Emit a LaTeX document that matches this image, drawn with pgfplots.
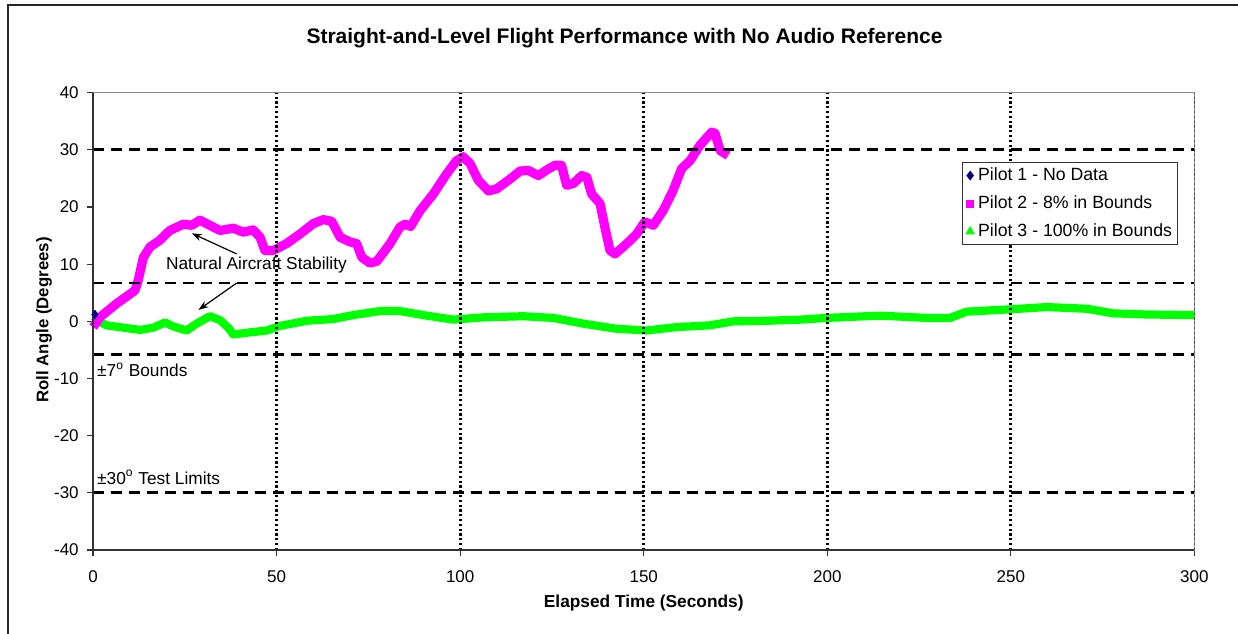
\documentclass[border=0pt]{standalone}
\usepackage{pgfplots}
\pgfplotsset{compat=1.18}
\usetikzlibrary{arrows.meta}
\usepackage{fontspec}
\setmainfont{Liberation Sans}
\definecolor{pmag}{RGB}{255,0,255}
\definecolor{pgreen}{RGB}{0,255,0}
\definecolor{pnavy}{RGB}{0,0,128}
\begin{document}
\begin{tikzpicture}
\useasboundingbox (-46.55pt,-41.5pt) rectangle (572.45pt,275pt);
\draw[black!85, line width=0.8pt] (-42.55pt,-45pt) -- (-42.55pt,272.5pt) -- (580pt,272.5pt);
\begin{axis}[
  at={(0pt,0pt)}, anchor=south west,
  scale only axis, width=550.65pt, height=228.65pt,
  xmin=0, xmax=300, ymin=-40, ymax=40,
  clip=false,
  xtick={0,50,...,300}, ytick={-40,-30,...,40},
  xticklabels={0,50,100,150,200,250,300},
  yticklabels={-40,-30,-20,-10,0,10,20,30,40},
  tick pos=left, tick align=outside, major tick length=3pt,
  tick style={black!80, line width=0.6pt},
  axis line style={draw=gray!90, line width=0.5pt},
  ticklabel style={font=\fontsize{8.5}{10}\selectfont},
  xticklabel style={inner sep=0pt, anchor=north, yshift=-7pt},
  yticklabel style={inner sep=0pt, anchor=east, xshift=-4pt},
  xlabel={Elapsed Time (Seconds)}, ylabel={Roll Angle (Degrees)},
  every axis x label/.style={at={(axis description cs:0.5,-0.1159)}, anchor=center, font=\bfseries\fontsize{8.65}{10}\selectfont},
  every axis y label/.style={at={(axis description cs:-0.0446,0.503)}, anchor=center, rotate=90, font=\bfseries\fontsize{8.4}{10}\selectfont},
  title={Straight-and-Level Flight Performance with No Audio Reference},
  every axis title/.style={at={(axis description cs:0.4825,1.1196)}, anchor=center, font=\bfseries\fontsize{10.5}{12}\selectfont},
  legend style={at={(0.7887,0.849)}, anchor=north west, draw=black!80, line width=0.5pt, fill=white,
    font=\fontsize{8.85}{10}\selectfont, inner xsep=2pt, inner ysep=1.65pt, row sep=4pt, column sep=1pt,
    nodes={inner sep=1pt, text height=6.3pt, text depth=1.7pt}},
  legend cell align=left,
  legend image code/.code={\draw[#1] plot coordinates {(0pt,0pt)};},
]
% legend entries
\addlegendimage{only marks, mark=diamond*, mark size=2.1pt, color=pnavy}
\addlegendentry{Pilot 1 - No Data}
\addlegendimage{only marks, mark=square*, mark size=1.75pt, color=pmag}
\addlegendentry{Pilot 2 - 8\% in Bounds}
\addlegendimage{only marks, mark=triangle*, mark size=2.3pt, color=pgreen}
\addlegendentry{Pilot 3 - 100\% in Bounds}

% Pilot 3 (green)
\addplot[forget plot, color=pgreen, line width=4.1pt, line join=round, mark=none] coordinates {
(0,-0.2) (1,0.2) (3.7,-0.7) (8.2,-1.1) (12.8,-1.5) (16.4,-1.1) (19.6,-0.2) (21.9,-0.9)
(25.5,-1.6) (28.2,-0.4) (31.8,0.9) (34.6,0.2) (36.8,-1.1) (38.2,-2.3) (41.8,-2) (47.3,-1.6)
(50.9,-0.8) (58.2,0.1) (65.4,0.4) (70.9,1.1) (78.2,1.8) (83.6,1.8) (90.9,1.0) (98.1,0.3)
(106.3,0.7) (117.2,0.9) (125.4,0.6) (133.5,-0.4) (142.6,-1.3) (150.8,-1.6) (159,-1.0) (168,-0.7)
(174.4,0) (183.5,0.1) (192.6,0.3) (199.8,0.6) (214.4,1.0) (227.1,0.6) (233.4,0.6) (238,1.7)
(249.8,2.1) (259.8,2.5) (270.7,2.2) (277.9,1.4) (287,1.2) (300,1.1)
};
% Pilot 2 (magenta)
\addplot[forget plot, color=pmag, line width=4.6pt, line join=round, mark=none] coordinates {
(0,-1) (1.9,0.75) (6.4,3.1) (11.4,5.4) (12.3,7.2) (13.7,11.2) (15.5,13) (18.2,14.2)
(20.9,15.9) (24.6,17) (26.9,16.8) (29.1,17.7) (32.7,16.5) (34.6,15.9) (38.2,16.3) (40.9,15.6)
(43.6,16) (45.5,14.7) (46.8,12.4) (49.1,12.4) (52.7,13.6) (56.4,15.3) (60,17.1) (62.7,17.8)
(65,17.5) (67.3,14.7) (70,13.9) (71.8,13.6) (73.2,11.2) (75.4,10.2) (77.3,10.5) (80.9,13.6)
(83.6,16.5) (85,17) (86.5,16.6) (89,19.3) (92.7,22.3) (96.3,25.8) (99,28.1) (100.8,28.8)
(102.7,27.6) (104.9,24.7) (107.7,22.8) (110,23.2) (113.6,24.9) (116.3,26.3) (118.6,26.4) (121.3,25.5)
(123.6,26.5) (125.8,27.3) (127.6,27.3) (129,23.8) (130.8,24.1) (133.1,25.5) (134.5,25.2) (135.8,22.3)
(138.1,20.6) (139.4,16.5) (140.8,12.4) (142.2,11.8) (145.4,13.6) (148.1,15.3) (150.3,17.4) (152.6,16.8)
(155.3,19.4) (158,22.9) (160.3,26.7) (162.6,28.1) (165.3,30.8) (168.5,33.1) (169.4,32.9) (170.8,29.9)
(173,29)
};
% Pilot 1 (navy)
\addplot[forget plot, only marks, mark=diamond*, mark size=2.1pt, color=pnavy] coordinates {(0.5,1.2)};

% reference lines
\addplot[forget plot, black, line width=1.4pt, dash pattern=on 5.5pt off 3.5pt] coordinates {(0,30) (300,30)};
\addplot[forget plot, black, line width=1.4pt, dash pattern=on 5.5pt off 3.5pt] coordinates {(0,6.7) (300,6.7)};
\addplot[forget plot, black, line width=1.4pt, dash pattern=on 5.5pt off 3.5pt] coordinates {(0,-5.8) (300,-5.8)};
\addplot[forget plot, black, line width=1.4pt, dash pattern=on 5.5pt off 3.5pt] coordinates {(0,-30) (300,-30)};
\addplot[forget plot, black, line width=1.4pt, dash pattern=on 1.1pt off 1.3pt] coordinates {(50,-40) (50,40)};
\addplot[forget plot, black, line width=1.4pt, dash pattern=on 1.1pt off 1.3pt] coordinates {(100,-40) (100,40)};
\addplot[forget plot, black, line width=1.4pt, dash pattern=on 1.1pt off 1.3pt] coordinates {(150,-40) (150,40)};
\addplot[forget plot, black, line width=1.4pt, dash pattern=on 1.1pt off 1.3pt] coordinates {(200,-40) (200,40)};
\addplot[forget plot, black, line width=1.4pt, dash pattern=on 1.1pt off 1.3pt] coordinates {(250,-40) (250,40)};
\addplot[forget plot, black!70, line width=0.9pt, dash pattern=on 1.1pt off 1.3pt] coordinates {(300,-40) (300,40)};

% dark left and bottom axis lines
\draw[black!80, line width=0.75pt] (rel axis cs:0,1) -- (rel axis cs:0,0) -- (rel axis cs:1,0);

% annotations
\node[font=\fontsize{8.65}{10}\selectfont, anchor=center] at (axis cs:44.5,9.8) {Natural Aircraft Stability};
\draw[-{Stealth[length=5pt,width=3.5pt]}, line width=0.6pt] (axis cs:39.1,11.8) -- (axis cs:26.9,15.4);
\draw[-{Stealth[length=5pt,width=3.5pt]}, line width=0.6pt] (axis cs:39.1,6.7) -- (axis cs:28.7,2.0);
\node[font=\fontsize{8.65}{10}\selectfont, anchor=west, inner sep=0pt] at (axis cs:1,-8.5) {±7\textsuperscript{o} Bounds};
\node[font=\fontsize{8.65}{10}\selectfont, anchor=west, inner sep=0pt] at (axis cs:1,-27.3) {±30\textsuperscript{o} Test Limits};
\end{axis}
\end{tikzpicture}
\end{document}
